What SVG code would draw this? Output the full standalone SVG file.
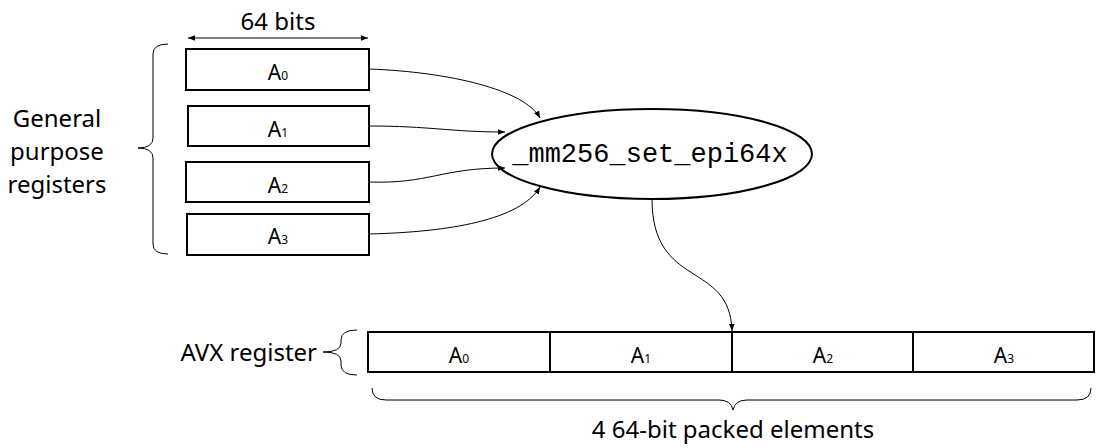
<svg xmlns="http://www.w3.org/2000/svg" width="1104" height="448" viewBox="0 0 1104 448">
<style>
.box{fill:#fff;stroke:#000;stroke-width:2}
.lbl{font-family:"Noto Sans","Liberation Sans",sans-serif;font-size:21px;fill:#000}
.big{font-family:"Noto Sans","Liberation Sans",sans-serif;font-size:24px;fill:#000}
.sub{font-size:12px}
.line{fill:none;stroke:#000;stroke-width:1}
.mono{font-family:"Liberation Mono","Courier New",monospace;font-size:27px;fill:#000}
</style>
<defs>
<marker id="ah" viewBox="0 0 10 10" refX="10" refY="5" markerWidth="7" markerHeight="7" orient="auto-start-reverse" markerUnits="userSpaceOnUse">
<path d="M0,1 L10,5 L0,9 z" fill="#000"/>
</marker>
</defs>
<rect width="1104" height="448" fill="#fff"/>

<g id="width-label">
<line class="line" x1="188" y1="38" x2="368" y2="38" marker-start="url(#ah)" marker-end="url(#ah)"/>
<text class="big" x="278" y="30" text-anchor="middle">64 bits</text>
</g>

<g id="gpr-brace">
<path class="line" d="M168,44 Q153,44 153,54 L153,138 Q153,148 138,148 Q153,148 153,158 L153,244 Q153,254 168,254"/>
<text class="big" text-anchor="middle"><tspan x="57" y="127">General</tspan><tspan x="57" y="160">purpose</tspan><tspan x="57" y="193">registers</tspan></text>
</g>

<g id="A0"><rect class="box" x="186" y="49" width="183" height="41"/><text class="lbl" x="278" y="80" text-anchor="middle">A<tspan class="sub">0</tspan></text></g>
<g id="A1"><rect class="box" x="188" y="106" width="181" height="40"/><text class="lbl" x="278" y="137" text-anchor="middle">A<tspan class="sub">1</tspan></text></g>
<g id="A2"><rect class="box" x="186" y="162" width="183" height="40"/><text class="lbl" x="278" y="193" text-anchor="middle">A<tspan class="sub">2</tspan></text></g>
<g id="A3"><rect class="box" x="187" y="214" width="182" height="41"/><text class="lbl" x="278" y="244" text-anchor="middle">A<tspan class="sub">3</tspan></text></g>

<g id="func">
<ellipse cx="652" cy="154" rx="160" ry="45" fill="#fff" stroke="#000" stroke-width="2"/>
<text class="mono" x="650" y="162" text-anchor="middle">_mm256_set_epi64x</text>
</g>

<g id="connectors">
<path class="line" d="M369,69 C450,72 525,90 540,118" marker-end="url(#ah)"/>
<path class="line" d="M369,126 C430,126 450,132 505,132" marker-end="url(#ah)"/>
<path class="line" d="M369,182 C430,184 440,168 505,168" marker-end="url(#ah)"/>
<path class="line" d="M369,234 C450,232 520,220 540,187" marker-end="url(#ah)"/>
<path class="line" d="M652,199 C652,290 730,260 732,331" marker-end="url(#ah)"/>
</g>

<g id="avx">
<rect class="box" x="368" y="332" width="726" height="40"/>
<line x1="550" y1="332" x2="550" y2="372" stroke="#000" stroke-width="2"/>
<line x1="732" y1="332" x2="732" y2="372" stroke="#000" stroke-width="2"/>
<line x1="913" y1="332" x2="913" y2="372" stroke="#000" stroke-width="2"/>
<text class="lbl" x="459" y="363" text-anchor="middle">A<tspan class="sub">0</tspan></text>
<text class="lbl" x="641" y="363" text-anchor="middle">A<tspan class="sub">1</tspan></text>
<text class="lbl" x="823" y="363" text-anchor="middle">A<tspan class="sub">2</tspan></text>
<text class="lbl" x="1004" y="363" text-anchor="middle">A<tspan class="sub">3</tspan></text>
</g>

<g id="avx-brace">
<path class="line" d="M357,330 Q341,330 341,340 L341,343 Q341,352 323,352 Q341,352 341,361 L341,365 Q341,375 357,375"/>
<text class="big" x="317" y="361" text-anchor="end">AVX register</text>
</g>

<g id="packed-brace">
<path class="line" d="M372,388 Q372,400 386,400 L719,400 Q731,400 733,410 Q735,400 747,400 L1077,400 Q1091,400 1091,388"/>
<text class="big" x="733" y="438" text-anchor="middle">4 64-bit packed elements</text>
</g>
</svg>
